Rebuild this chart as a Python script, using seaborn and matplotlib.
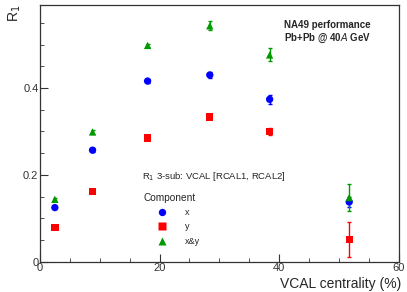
import numpy as np
import pandas as pd
import matplotlib
matplotlib.use("Agg")
import matplotlib.pyplot as plt
import seaborn as sns
from matplotlib.ticker import MultipleLocator

centrality = [2.5, 8.8, 18.0, 28.4, 38.4, 51.7]
r1_x   = [0.125, 0.257, 0.416, 0.430, 0.374, 0.138]
r1_y   = [0.079, 0.162, 0.285, 0.333, 0.300, 0.052]
r1_xy  = [0.144, 0.299, 0.498, 0.543, 0.476, 0.148]
err_x  = [0.004, 0.004, 0.005, 0.006, 0.011, 0.012]
err_y  = [0.004, 0.004, 0.004, 0.005, 0.009, 0.040]
err_xy = [0.004, 0.004, 0.004, 0.010, 0.015, 0.031]

components = ["x", "y", "x&y"]
colors = {"x": "#0000ff", "y": "#ff0000", "x&y": "#009900"}
markers = {"x": "o", "y": "s", "x&y": "^"}

df = pd.concat([
    pd.DataFrame({"centrality": centrality, "R1": v, "err": e, "Component": c})
    for c, v, e in zip(components, [r1_x, r1_y, r1_xy], [err_x, err_y, err_xy])
], ignore_index=True)

sns.set_style("ticks")
plt.rcParams["font.family"] = ["Liberation Sans", "DejaVu Sans"]

fig = plt.figure(figsize=(4.07, 2.92), dpi=100)
ax = fig.add_axes([0.098, 0.103, 0.882, 0.880])

# error bars first, markers on top
for c in components:
    d = df[df["Component"] == c]
    ax.errorbar(d["centrality"], d["R1"], yerr=d["err"], fmt="none",
                ecolor=colors[c], elinewidth=1.0, capsize=1.5, zorder=2)

sns.scatterplot(data=df, x="centrality", y="R1", hue="Component", style="Component",
                palette=colors, markers=markers, s=28, edgecolor="none", ax=ax, zorder=3)

ax.set_xlim(0, 60)
ax.set_ylim(0, 0.591)
ax.xaxis.set_minor_locator(MultipleLocator(5))
ax.yaxis.set_minor_locator(MultipleLocator(0.05))
ax.set_xticks([0, 20, 40, 60], ["0", "20", "40", "60"])
ax.set_yticks([0, 0.2, 0.4], ["0", "0.2", "0.4"])
ax.tick_params(which="both", direction="in", labelsize=8, colors="#333333", pad=1)
ax.tick_params(which="major", length=6)
ax.tick_params(which="minor", length=3)
for s in ax.spines.values():
    s.set_color("#333333")
    s.set_linewidth(0.9)

ax.set_xlabel("")
ax.set_ylabel("")
fig.text(0.985, 0.003, "VCAL centrality (%)", ha="right", va="bottom", fontsize=10)
fig.text(0.015, 0.985, r"R$_1$", rotation=90, ha="left", va="top", fontsize=10)

ax.text(0.68, 0.922, "NA49 performance", transform=ax.transAxes, fontsize=7,
        fontweight="bold", ha="left", va="center")
ax.text(0.68, 0.868, r"Pb+Pb @ 40$\mathit{A}$ GeV", transform=ax.transAxes, fontsize=7,
        fontweight="bold", ha="left", va="center")
ax.text(0.285, 0.331, r"R$_1$ 3-sub: VCAL [RCAL1, RCAL2]", transform=ax.transAxes,
        fontsize=6.8, ha="left", va="center")

leg = ax.legend(title="Component", loc="upper left", bbox_to_anchor=(0.29, 0.27),
                frameon=False, fontsize=6.5, title_fontsize=7.3, handlelength=4.0,
                handletextpad=0.5, labelspacing=0.6, borderpad=0, borderaxespad=0,
                alignment="left")

fig.savefig("out.png", dpi=100)
